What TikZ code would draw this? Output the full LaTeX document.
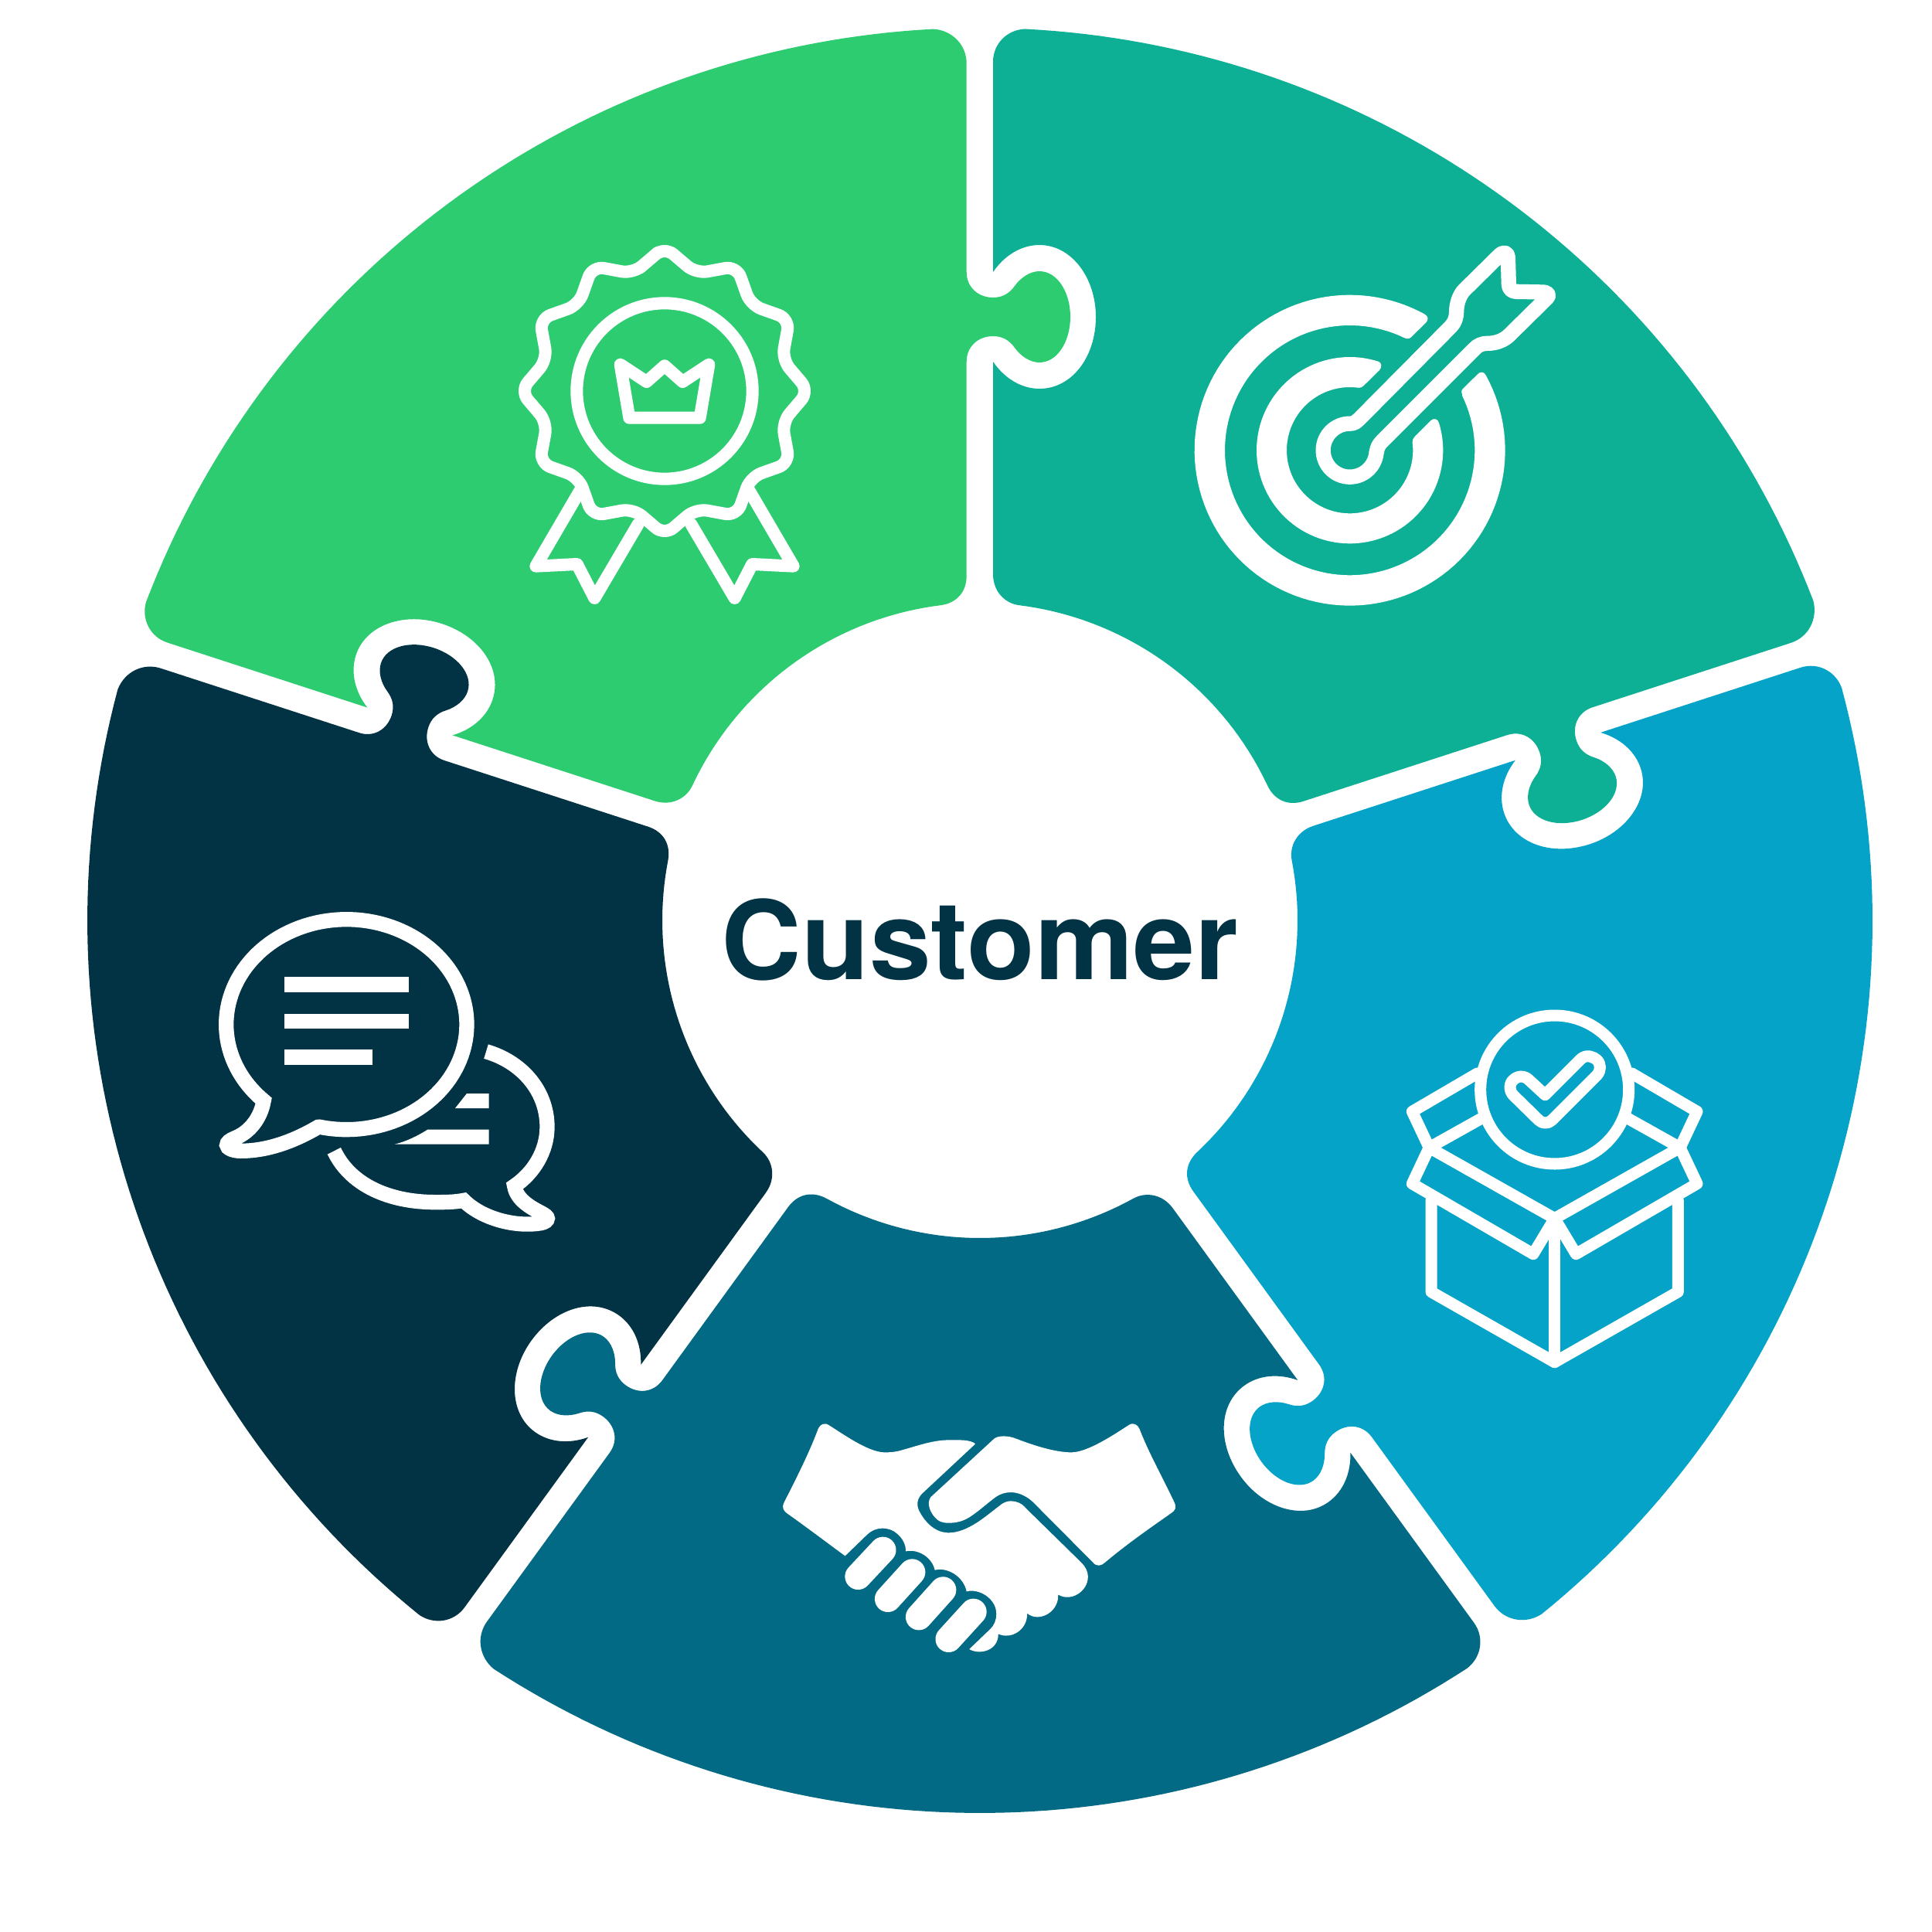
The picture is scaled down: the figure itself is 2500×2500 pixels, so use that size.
\documentclass[tikz,border=0pt]{standalone}
\usepackage{fontspec}
\setmainfont{TeX Gyre Heros}
\definecolor{cgreen}{HTML}{2ECC71}
\definecolor{cteal}{HTML}{0EB095}
\definecolor{cblue}{HTML}{05A3C7}
\definecolor{cdeep}{HTML}{026A84}
\definecolor{cnavy}{HTML}{023345}
\tikzset{
  zoomed/.style 2 args={shift={(#1,#2)},scale=1/3},
  iconline/.style={draw=white,line width=#1,line join=round,line cap=round},
  miterline/.style={draw=white,line width=#1,line join=miter,line cap=butt},
  iconfill/.style={fill=white}
}
\newcommand\sectorshape[2]{%
  \fill[#1,rotate around={#2:(1268,1191)}]
    plot[domain=87.07:21,samples=70] ({1268+1155*cos(\x)},{1191-1155*sin(\x)})
    {[rotate around={-72:(1268,1191)}]
      -- (1207.6,37.6) .. controls (1232,39) and (1250.7,58) .. (1250.7,82)
      -- (1250.7,352)
      .. controls (1250.7,372) and (1266,385) .. (1285,385)
      .. controls (1297,385) and (1306,380) .. (1313,370)
      .. controls (1321,359) and (1333,351) .. (1345,351)
      .. controls (1368,351) and (1385,378) .. (1385,410)
      .. controls (1385,442) and (1368,469) .. (1345,469)
      .. controls (1333,469) and (1321,461) .. (1313,450)
      .. controls (1306,440) and (1297,435) .. (1285,435)
      .. controls (1266,435) and (1250.7,448) .. (1250.7,468)
      -- (1250.7,745)
      .. controls (1250.7,766) and (1238,780.6) .. ({1268+411*cos(97.2)},{1191-411*sin(97.2)})
    }
    -- plot[domain=25.2:82.9,samples=40] ({1268+411*cos(\x)},{1191-411*sin(\x)})
    .. controls (1300,780.8) and (1285,765) .. (1285,743)
    -- (1285,468)
    .. controls (1300,490) and (1322,503) .. (1345,503)
    .. controls (1387,503) and (1418,462) .. (1418,410)
    .. controls (1418,360) and (1387,317) .. (1345,317)
    .. controls (1322,317) and (1300,330) .. (1285,352)
    -- (1285,80)
    .. controls (1285,56) and (1304,38) .. (1327,37.5)
    -- cycle;%
}
\begin{document}
\begin{tikzpicture}[x=0.01cm,y=-0.01cm]
\useasboundingbox (0,0) rectangle (2500,2500);
\fill[white] (0,0) rectangle (2500,2500);
\sectorshape{cteal}{0}
\sectorshape{cgreen}{72}
\sectorshape{cnavy}{144}
\sectorshape{cdeep}{-144}
\sectorshape{cblue}{-72}

\node[anchor=base,text=cnavy,inner sep=0pt,font=\bfseries\fontsize{40.2}{42}\selectfont] (customer) at (1268,1267) {\scalebox{1.015}[1]{Customer}};

% rosette
\begin{scope}[zoomed={640}{290}]
  \draw[iconline=0.16cm,rounded corners=0.15cm]
    ({660+0.5*(560*sin(0)+472*sin(-15))},{648-0.5*(560*cos(0)+472*cos(-15))})
    \foreach \a in {0,30,...,330} {
      -- ({660+560*sin(\a)},{648-560*cos(\a)})
      -- ({660+472*sin(\a+15)},{648-472*cos(\a+15)})
    } -- cycle;
  \draw[iconline=0.16cm] (660,648) circle[radius=341];
  \draw[iconline=0.16cm] (488,545) -- (590,612) -- (660,550) -- (730,612) -- (832,545) -- (797,752) -- (523,752) -- cycle;
  \draw[iconline=0.16cm] (337,1025) -- (160,1328) -- (320,1320) -- (388,1452) -- (557,1165);
  \draw[iconline=0.16cm] (983,1025) -- (1160,1328) -- (1000,1320) -- (932,1452) -- (763,1165);
\end{scope}

% target
\begin{scope}[zoomed={1520}{290}]
  \fill[iconfill] plot[domain=61:386,samples=120] ({680+603*cos(\x)},{878-603*sin(\x)})
    .. controls (1216,602) and (1212,594) .. (1207,585)
    .. controls (1200,573) and (1187,572) .. (1178,581)
    -- (1120,638) .. controls (1112,646) and (1112,652) .. (1117,663)
    -- plot[domain=386:64,samples=120] ({680+485*cos(\x)},{878-485*sin(\x)})
    .. controls (905,447) and (912,445) .. (920,437)
    -- (975,383) .. controls (986,372) and (985,358) .. (972,351) -- cycle;
  \fill[iconfill] plot[domain=72:377,samples=100] ({680+362*cos(\x)},{878-362*sin(\x)})
    .. controls (1022,755) and (1005,752) .. (995,762)
    -- (932,825) .. controls (925,832) and (923,838) .. (924,845)
    -- plot[domain=368:82,samples=90] ({680+245*cos(\x)},{878-245*sin(\x)})
    .. controls (722,635) and (727,634) .. (733,628)
    -- (795,567) .. controls (806,556) and (803,537) .. (792,534) -- cycle;
  \draw[iconline=0.193cm] (683.6,774.6) .. controls (700,773) and (708,765) .. (716,757)
    -- (1072,398) .. controls (1088,382) and (1094,360) .. (1094,340)
    .. controls (1094,310) and (1105,275) .. (1125,255)
    -- (1262,120) .. controls (1278,105) and (1294,112) .. (1294,130)
    -- (1297,232) .. controls (1297,250) and (1308,262) .. (1325,262)
    -- (1432,264) .. controls (1449,264) and (1456,278) .. (1445,287)
    -- (1300,430) .. controls (1280,450) and (1250,463) .. (1215,463)
    .. controls (1190,463) and (1175,472) .. (1163,485)
    -- (805,843) .. controls (792,856) and (786,868) .. (784,885)
    -- plot[domain=-4:-272,samples=80] ({680+103.5*cos(\x)},{878-103.5*sin(\x)}) -- cycle;
\end{scope}

% speech bubbles
\begin{scope}[zoomed={260}{1160}]
  \draw[miterline=0.193cm] plot[domain=257:586.5,samples=120] ({565+467*cos(\x)},{497-408*sin(\x)})
    .. controls (232,860) and (190,915) .. (132,938)
    .. controls (112,946) and (101,955) .. (101,965)
    .. controls (101,978) and (125,988) .. (155,988)
    .. controls (265,988) and (370,945) .. (455,895)
    -- cycle;
  \fill[iconfill] (325,313) rectangle (807,371);
  \fill[iconfill] (325,455) rectangle (807,513);
  \fill[iconfill] (325,595) rectangle (665,653);
  \fill[iconfill] (1032,765) -- (1118,765) -- (1118,822) -- (987,822) -- cycle;
  \fill[iconfill] (880,905) -- (1118,905) -- (1118,962) -- (752,962) .. controls (800,950) and (840,930) .. (880,905) -- cycle;
  \draw[miterline=0.193cm] (1107,602) .. controls (1240,640) and (1344,750) .. (1344,895)
    .. controls (1344,990) and (1290,1075) .. (1217,1124)
    .. controls (1225,1175) and (1275,1205) .. (1320,1228)
    .. controls (1335,1236) and (1345,1243) .. (1345,1250)
    .. controls (1345,1258) and (1335,1265) .. (1320,1268)
    .. controls (1220,1285) and (1090,1250) .. (1020,1180)
    .. controls (985,1187) and (945,1187) .. (910,1187)
    .. controls (730,1187) and (580,1120) .. (517,988);
\end{scope}

% box
\begin{scope}[zoomed={1790}{1290}]
  \draw[iconline=0.15cm] (665,360) circle[radius=288];
  \draw[iconline=0.15cm] (628,380) -- (768,240) .. controls (790,222) and (815,232) .. (830,245)
    .. controls (845,262) and (845,285) .. (830,303) -- (655,478)
    .. controls (640,493) and (618,493) .. (603,478) -- (505,382)
    .. controls (488,365) and (488,335) .. (505,322)
    .. controls (522,305) and (548,305) .. (565,322) -- cycle;
  \draw[iconline=0.15cm] (365,297) -- (112,445) -- (178,585) -- (380,472);
  \draw[iconline=0.15cm] (965,297) -- (1218,445) -- (1152,585) -- (950,472);
  \draw[iconline=0.15cm] (178,585) -- (665,860) -- (1152,585);
  \draw[iconline=0.15cm] (178,585) -- (112,725) -- (582,998) -- (665,860) -- (748,998) -- (1218,725) -- (1152,585);
  \draw[iconline=0.15cm] (186,790) -- (186,1145) -- (665,1418) -- (1144,1145) -- (1144,790);
  \draw[iconline=0.15cm] (665,880) -- (665,1418);
\end{scope}

% handshake
\begin{scope}[shift={(990,1820)},xscale=1/2.8,yscale=1/3]
  \fill[iconfill] (290,580) -- (370,497) .. controls (400,465) and (450,465) .. (480,495)
    .. controls (498,512) and (510,535) .. (510,562)
    .. controls (555,552) and (605,585) .. (615,635)
    .. controls (660,622) and (720,660) .. (730,718)
    .. controls (775,705) and (838,745) .. (838,805)
    .. controls (838,830) and (830,850) .. (815,865)
    -- (740,942) .. controls (775,965) and (845,950) .. (845,883)
    .. controls (890,905) and (950,870) .. (950,803)
    .. controls (990,840) and (1065,800) .. (1062,730)
    .. controls (1105,760) and (1170,720) .. (1170,660)
    .. controls (1170,640) and (1160,620) .. (1145,605)
    -- (945,395) .. controls (930,375) and (910,367) .. (890,367)
    .. controls (875,367) and (860,375) .. (850,385)
    .. controls (800,425) and (735,490) .. (665,490)
    .. controls (610,490) and (575,440) .. (558,405)
    .. controls (545,375) and (555,350) .. (575,332)
    -- (762,145) .. controls (745,128) and (700,130) .. (670,130)
    .. controls (610,130) and (560,150) .. (500,168)
    .. controls (470,178) and (450,178) .. (430,178)
    .. controls (370,175) and (280,105) .. (232,73)
    .. controls (215,60) and (200,70) .. (193,85)
    .. controls (160,180) and (115,275) .. (70,370)
    .. controls (58,395) and (68,405) .. (80,415)
    .. controls (150,468) and (220,525) .. (290,580) -- cycle;
  \fill[iconfill] (830,125) .. controls (845,112) and (880,112) .. (910,125)
    .. controls (970,150) and (1050,178) .. (1110,178)
    .. controls (1170,178) and (1270,105) .. (1318,72)
    .. controls (1335,60) and (1350,70) .. (1357,88)
    .. controls (1390,180) and (1440,275) .. (1482,370)
    .. controls (1492,392) and (1488,402) .. (1470,415)
    .. controls (1390,475) and (1310,535) .. (1232,605)
    .. controls (1218,620) and (1200,622) .. (1188,605)
    -- (970,370) .. controls (945,345) and (915,333) .. (890,333)
    .. controls (870,333) and (850,340) .. (835,352)
    .. controls (800,380) and (770,410) .. (740,430)
    .. controls (715,447) and (690,452) .. (665,452)
    .. controls (640,452) and (627,445) .. (615,430)
    .. controls (597,408) and (585,375) .. (600,352) -- cycle;
  \draw[iconline=0.34cm] (337,660) -- (427,557);
  \draw[iconline=0.34cm] (445,747) -- (533,643);
  \draw[iconline=0.34cm] (557,817) -- (645,712);
  \draw[iconline=0.34cm] (665,903) -- (755,797);
\end{scope}
\end{tikzpicture}
\end{document}
